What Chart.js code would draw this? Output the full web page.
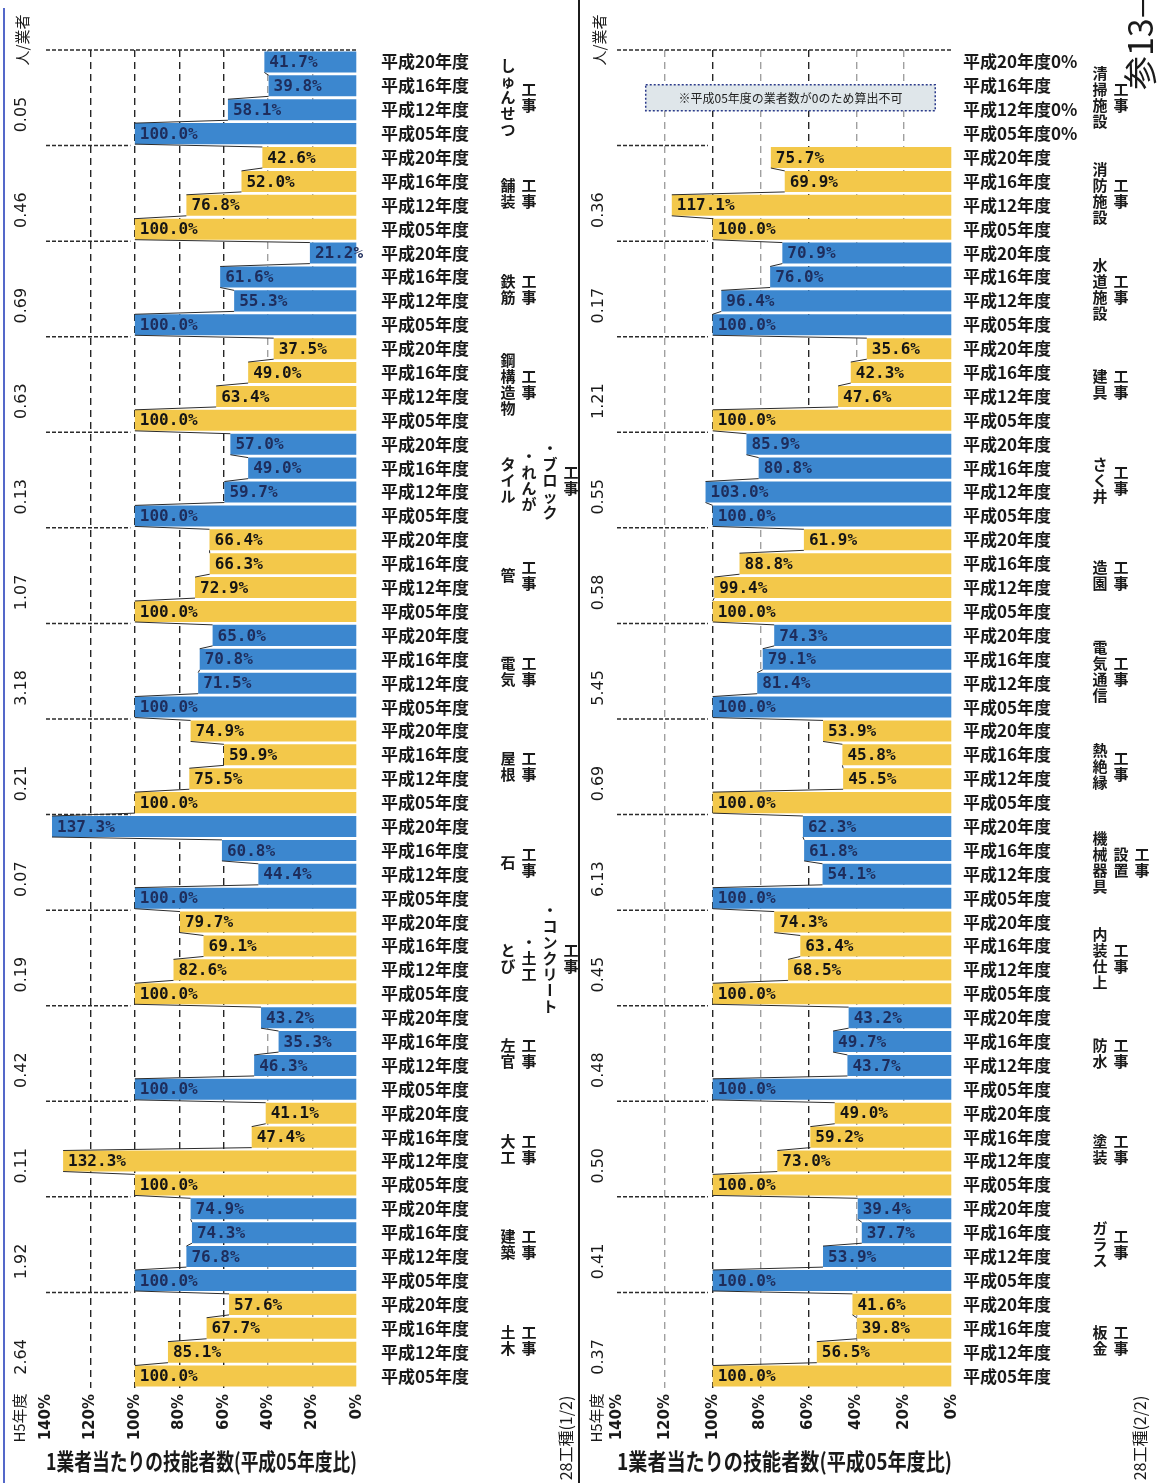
<!DOCTYPE html>
<html lang="ja">
<head>
<meta charset="utf-8">
<title>1業者当たりの技能者数(平成05年度比)</title>
<script src="https://cdn.jsdelivr.net/npm/chart.js@4.4.1/dist/chart.umd.min.js"></script>
<style>
  html, body { margin: 0; padding: 0; background: #fff; }
  body { position: relative; width: 1157px; height: 1483px; overflow: hidden; }
  canvas { position: absolute; top: 0; }
  #left { left: 0; }
  #right { left: 580px; }
  .sep { position: absolute; top: 0; left: 578px; width: 2px; height: 1483px; background: #1c1c1c; }
  .edge { position: absolute; top: 8px; left: 3px; width: 2px; height: 1475px; background: #5468c9; }
</style>
</head>
<body>
<div class="edge"></div>
<canvas id="left" width="578" height="1483"></canvas>
<canvas id="right" width="577" height="1483"></canvas>
<div class="sep"></div>
<script>
// Data
const years = ['平成05年度', '平成12年度', '平成16年度', '平成20年度'];
const axisTitle = '1業者当たりの技能者数(平成05年度比)';

// 28工種 (1/2) - bottom to top
const trades1 = [['土木', '工事'], ['建築', '工事'], ['大工', '工事'], ['左官', '工事'],
  ['とび', '・土工', '・コンクリート', '工事'], ['石', '工事'], ['屋根', '工事'], ['電気', '工事'],
  ['管', '工事'], ['タイル', '・れんが', '・ブロック', '工事'], ['鋼構造物', '工事'], ['鉄筋', '工事'],
  ['舗装', '工事'], ['しゅんせつ', '工事']];
const h5_1 = [2.64, 1.92, 0.11, 0.42, 0.19, 0.07, 0.21, 3.18, 1.07, 0.13, 0.63, 0.69, 0.46, 0.05];
const r05_1 = [100.0, 100.0, 100.0, 100.0, 100.0, 100.0, 100.0, 100.0, 100.0, 100.0, 100.0, 100.0, 100.0, 100.0];
const r12_1 = [85.1, 76.8, 132.3, 46.3, 82.6, 44.4, 75.5, 71.5, 72.9, 59.7, 63.4, 55.3, 76.8, 58.1];
const r16_1 = [67.7, 74.3, 47.4, 35.3, 69.1, 60.8, 59.9, 70.8, 66.3, 49.0, 49.0, 61.6, 52.0, 39.8];
const r20_1 = [57.6, 74.9, 41.1, 43.2, 79.7, 137.3, 74.9, 65.0, 66.4, 57.0, 37.5, 21.2, 42.6, 41.7];

// 28工種 (2/2) - bottom to top
const trades2 = [['板金', '工事'], ['ガラス', '工事'], ['塗装', '工事'], ['防水', '工事'],
  ['内装仕上', '工事'], ['機械器具', '設置', '工事'], ['熱絶縁', '工事'], ['電気通信', '工事'],
  ['造園', '工事'], ['さく井', '工事'], ['建具', '工事'], ['水道施設', '工事'],
  ['消防施設', '工事'], ['清掃施設', '工事']];
const h5_2 = [0.37, 0.41, 0.50, 0.48, 0.45, 6.13, 0.69, 5.45, 0.58, 0.55, 1.21, 0.17, 0.36, null];
const r05_2 = [100.0, 100.0, 100.0, 100.0, 100.0, 100.0, 100.0, 100.0, 100.0, 100.0, 100.0, 100.0, 100.0, null];
const r12_2 = [56.5, 53.9, 73.0, 43.7, 68.5, 54.1, 45.5, 81.4, 99.4, 103.0, 47.6, 96.4, 117.1, null];
const r16_2 = [39.8, 37.7, 59.2, 49.7, 63.4, 61.8, 45.8, 79.1, 88.8, 80.8, 42.3, 76.0, 69.9, null];
const r20_2 = [41.6, 39.4, 49.0, 43.2, 74.3, 62.3, 53.9, 74.3, 61.9, 85.9, 35.6, 70.9, 75.7, null];
const noDataYears = ['平成05年度0%', '平成12年度0%', '平成16年度', '平成20年度0%'];
const noDataNote = '※平成05年度の業者数が0のため算出不可';

// Styles
const yellow = '#f3c84a';
const blue = '#3c87cf';
const ink = '#1a1a1a';
const jp = "'Noto Sans CJK JP', 'Noto Sans', sans-serif";
const num = "'DejaVu Sans', sans-serif";
const mono = "'DejaVu Sans Mono', monospace";

function vtext(ctx, text, x, y) {
    ctx.save();
    ctx.translate(x, y);
    ctx.rotate(-Math.PI / 2);
    ctx.fillText(text, 0, 0);
    ctx.restore();
}

function panel(id, p) {
    const labels = [], values = [], colors = [];
    p.trades.forEach((t, g) => {
        const yl = (p.yearLabels && p.yearLabels[g]) || years;
        [p.r05, p.r12, p.r16, p.r20].forEach((arr, k) => {
            labels.push(yl[k]);
            values.push(arr[g]);
            colors.push(g % 2 === 0 ? yellow : blue);
        });
    });

    const decor = {
        id: 'decor',
        afterDatasetsDraw(chart) {
            const ctx = chart.ctx;
            const xs = chart.scales.x, ys = chart.scales.y;
            const bars = chart.getDatasetMeta(0).data;
            const area = chart.chartArea;
            ctx.save();

            // lines joining the bar ends
            ctx.strokeStyle = '#2b2b2b';
            ctx.lineWidth = 1;
            for (let i = 0; i < bars.length - 1; i++) {
                if (values[i] == null || values[i + 1] == null) continue;
                const a = bars[i], b = bars[i + 1];
                ctx.beginPath();
                ctx.moveTo(a.x, a.y - a.height / 2);
                ctx.lineTo(b.x, b.y + b.height / 2);
                ctx.stroke();
            }

            // group separators
            ctx.setLineDash([4, 2]);
            ctx.lineWidth = 1.5;
            ctx.beginPath();
            ctx.moveTo(xs.getPixelForValue(140), area.top);
            ctx.lineTo(xs.getPixelForValue(0), area.top);
            for (let g = 1; g < p.trades.length; g++) {
                const y = ys.getPixelForValue(g * 4 - 0.5);
                ctx.moveTo(xs.getPixelForValue(140), y);
                ctx.lineTo(xs.getPixelForValue(102), y);
            }
            ctx.stroke();
            ctx.setLineDash([]);

            // value labels
            ctx.font = `bold 16px ${mono}`;
            ctx.textAlign = 'left';
            ctx.textBaseline = 'middle';
            bars.forEach((b, i) => {
                if (values[i] == null) return;
                ctx.fillStyle = Math.floor(i / 4) % 2 === 0 ? '#151515' : '#1e2d5c';
                ctx.fillText(values[i].toFixed(1) + '%', b.x + 5, b.y + 1);
            });

            // note box for the group without data
            if (p.note) {
                const x1 = xs.getPixelForValue(128), x2 = xs.getPixelForValue(7);
                const yc = ys.getPixelForValue(p.note.row);
                ctx.fillStyle = '#dfe6ea';
                ctx.fillRect(x1, yc - 13, x2 - x1, 26);
                ctx.setLineDash([2, 2]);
                ctx.strokeStyle = '#2a3a8a';
                ctx.lineWidth = 1.5;
                ctx.strokeRect(x1, yc - 13, x2 - x1, 26);
                ctx.setLineDash([]);
                ctx.fillStyle = '#222';
                ctx.font = `12px ${jp}`;
                ctx.textAlign = 'center';
                ctx.fillText(p.note.text, (x1 + x2) / 2, yc + 1);
            }
            ctx.restore();
        },
        afterDraw(chart) {
            const ctx = chart.ctx;
            const ys = chart.scales.y;
            ctx.save();
            ctx.fillStyle = ink;
            ctx.textAlign = 'center';
            ctx.textBaseline = 'middle';

            // H5 column
            ctx.font = `16px ${num}`;
            p.h5.forEach((v, g) => {
                if (v == null) return;
                vtext(ctx, v.toFixed(2), p.h5x, ys.getPixelForValue(g * 4 + 0.8));
            });
            ctx.font = `15px ${jp}`;
            vtext(ctx, '人/業者', p.h5x, 40);
            vtext(ctx, 'H5年度', p.h5x - 3, 1418);
            ctx.font = `16px ${jp}`;
            vtext(ctx, p.caption, p.noteX, 1438);

            // trade names, written in columns
            ctx.font = `bold 15px ${jp}`;
            p.trades.forEach((cols, g) => {
                const cy = ys.getPixelForValue(g * 4 + 1.5);
                cols.forEach((col, c) => {
                    const chars = [...col];
                    const step = 16;
                    const y0 = cy - (chars.length - 1) * step / 2;
                    chars.forEach((ch, k) => {
                        const x = p.nameX + c * 21, y = y0 + k * step;
                        if (ch === 'ー') {
                            ctx.save();
                            ctx.translate(x, y);
                            ctx.rotate(Math.PI / 2);
                            ctx.fillText(ch, 0, 0);
                            ctx.restore();
                        } else {
                            ctx.fillText(ch, x, y);
                        }
                    });
                });
            });

            if (p.pageMark) {
                ctx.font = `34px ${jp}`;
                ctx.textAlign = 'left';
                ctx.save();
                ctx.translate(p.pageMark.x, 90);
                ctx.rotate(-Math.PI / 2);
                ctx.fillText('参13—', 0, 0);
                ctx.restore();
            }
            ctx.restore();
        }
    };

    return new Chart(document.getElementById(id), {
        type: 'bar',
        data: {
            labels: labels,
            datasets: [{
                data: values,
                backgroundColor: colors,
                borderWidth: 0,
                barPercentage: 0.88,
                categoryPercentage: 1.0
            }]
        },
        options: {
            indexAxis: 'y',
            responsive: false,
            animation: false,
            devicePixelRatio: 1,
            layout: { padding: { left: p.left, top: 50, right: 0, bottom: 8 } },
            plugins: { legend: { display: false }, tooltip: { enabled: false } },
            scales: {
                x: {
                    type: 'linear',
                    min: 0,
                    max: 140,
                    reverse: true,
                    afterFit(s) { s.height = 87; },
                    border: { display: false, dash: [7, 5] },
                    grid: {
                        drawTicks: false,
                        lineWidth: 1.4,
                        color: c => (c.tick.value === 0 || c.tick.value === 140) ? 'rgba(0,0,0,0)'
                            : (p.darkGrid.includes(c.tick.value) ? '#262626' : '#a0a0a0')
                    },
                    ticks: {
                        stepSize: 20,
                        minRotation: 90,
                        maxRotation: 90,
                        padding: 6,
                        color: ink,
                        font: { family: num, size: 15, weight: 'bold' },
                        callback: v => v + '%'
                    },
                    title: {
                        display: true,
                        text: axisTitle,
                        color: ink,
                        padding: 0,
                        font: { family: jp, size: 23, weight: 'bold' }
                    }
                },
                y: {
                    type: 'category',
                    position: 'right',
                    reverse: true,
                    afterFit(s) { s.width = p.yWidth; },
                    grid: { display: false, drawTicks: false },
                    border: { display: false },
                    ticks: {
                        autoSkip: false,
                        padding: p.yPad,
                        color: ink,
                        font: { family: jp, size: 17, weight: 'bold' }
                    }
                }
            }
        },
        plugins: [decor]
    });
}

panel('left', {
    trades: trades1, h5: h5_1, r05: r05_1, r12: r12_1, r16: r16_1, r20: r20_1,
    left: 46, yWidth: 221, yPad: 24, h5x: 22, nameX: 508, noteX: 566,
    darkGrid: [60, 80, 100, 120], caption: '28工種(1/2)'
});

panel('right', {
    trades: trades2, h5: h5_2, r05: r05_2, r12: r12_2, r16: r16_2, r20: r20_2,
    yearLabels: { 13: noDataYears },
    note: { row: 53.5, text: noDataNote },
    left: 37, yWidth: 205, yPad: 11, h5x: 19, nameX: 520, noteX: 560,
    darkGrid: [60, 100], caption: '28工種(2/2)', pageMark: { x: 560 }
});
</script>
</body>
</html>
